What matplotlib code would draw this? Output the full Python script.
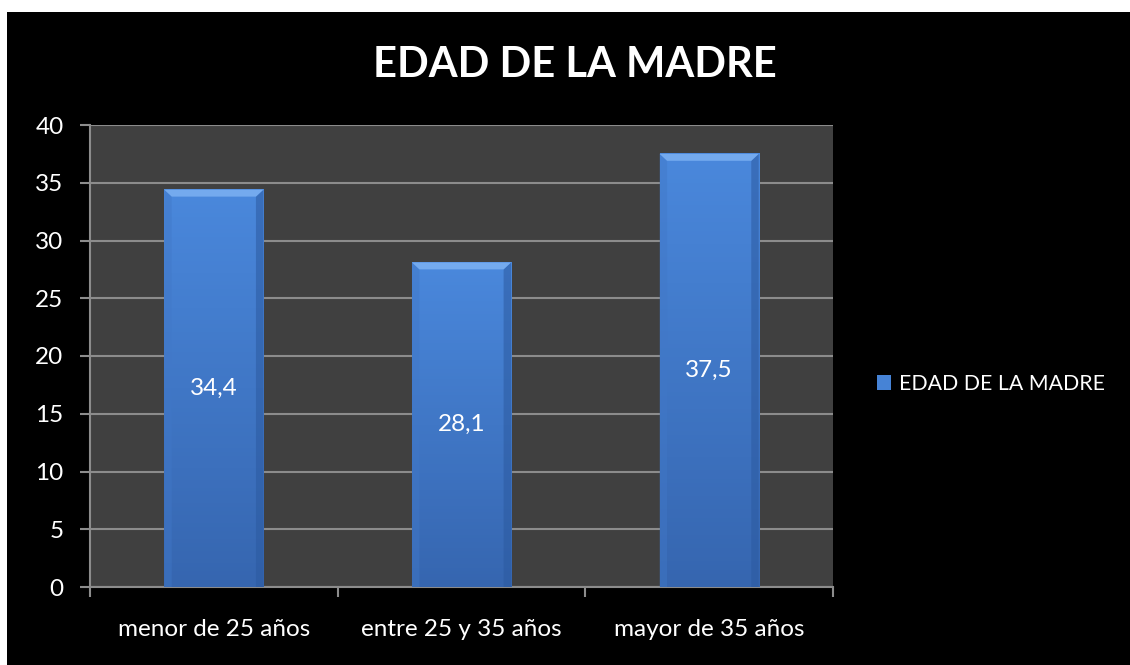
import matplotlib
matplotlib.use("Agg")
import matplotlib.pyplot as plt
from matplotlib.patches import Polygon, Rectangle
import numpy as np

categories = ["menor de 25 años", "entre 25 y 35 años", "mayor de 35 años"]
values = [34.4, 28.1, 37.5]
value_labels = ["34,4", "28,1", "37,5"]
series_name = "EDAD DE LA MADRE"
title = "EDAD DE LA MADRE"
yticks = [0, 5, 10, 15, 20, 25, 30, 35, 40]

plt.rcParams['font.family'] = ['Lato', 'DejaVu Sans']

W, H = 1130, 665
fig = plt.figure(figsize=(W/100, H/100), dpi=100, facecolor='white')
# black chart area (white margin top/left)
fig.patches.append(Rectangle((7/W, 0), 1 - 7/W, 1 - 12/H, transform=fig.transFigure,
                             facecolor='black', edgecolor='none', zorder=-10))

ax = fig.add_axes([90/W, 1 - 587/H, (833-90)/W, (587-125)/H])
ax.set_facecolor('#404040')
x = np.arange(len(categories))
bw = 0.4
face = '#4683d6'
bars = ax.bar(x, values, width=bw, color=face, edgecolor='none', zorder=3, label=series_name)

bx = 0.03
by = 0.6
cmap = matplotlib.colors.LinearSegmentedColormap.from_list('g', ['#3666b0', '#4a88dc'])
for b in bars:
    x0 = b.get_x(); x1 = x0 + b.get_width(); h = b.get_height()
    grad = np.linspace(0, 1, 100).reshape(-1, 1)
    ax.imshow(grad, extent=[x0, x1, 0, h], origin='lower', cmap=cmap,
              aspect='auto', zorder=3.1)
    # top bevel
    ax.add_patch(Polygon([(x0, h), (x1, h), (x1 - bx, h - by), (x0 + bx, h - by)],
                         closed=True, facecolor='#74aaee', edgecolor='none', zorder=3.3))
    # left bevel
    ax.add_patch(Polygon([(x0, h), (x0 + bx, h - by), (x0 + bx, 0), (x0, 0)],
                         closed=True, facecolor='#4178c8', edgecolor='none', zorder=3.2, alpha=0.45))
    # right bevel
    ax.add_patch(Polygon([(x1, h), (x1 - bx, h - by), (x1 - bx, 0), (x1, 0)],
                         closed=True, facecolor='#2c5aa0', edgecolor='none', zorder=3.2, alpha=0.55))

for xi, v, lab in zip(x, values, value_labels):
    ax.text(xi, v/2, lab, ha='center', va='center', color='white', fontsize=17.5, zorder=6)

ax.set_xlim(-0.5, len(categories) - 0.5)
ax.set_ylim(0, 40)
ax.set_yticks(yticks)
ax.set_yticklabels([str(t) for t in yticks], color='white', fontsize=17.5)
ax.set_xticks(x)
ax.set_xticklabels(categories, color='white', fontsize=17.5)
ax.tick_params(axis='x', length=0, pad=23)
ax.set_xticks(np.arange(-0.5, len(categories)), minor=True)
ax.tick_params(axis='x', which='minor', length=7, color='#8c8c8c', width=1.5)
ax.tick_params(axis='y', length=7, color='#8c8c8c', width=1.5, pad=12)
ax.grid(axis='y', color='#8c8c8c', linewidth=1.5, zorder=1)
ax.set_axisbelow(True)
for s in ['top', 'right']:
    ax.spines[s].set_visible(False)
for s in ['left', 'bottom']:
    ax.spines[s].set_color('#8c8c8c')
    ax.spines[s].set_linewidth(1.5)

fig.text(575/W, 1 - 65/H, title, ha='center', va='center', color='white',
         fontsize=30, fontweight='bold')

leg = fig.legend(handles=[bars], labels=[series_name], loc='center left',
                 bbox_to_anchor=(858/W, 1 - 384/H), frameon=False,
                 labelcolor='white', fontsize=15.3, handlelength=0.65, handleheight=0.65,
                 handletextpad=0.4)

fig.savefig('out.png', dpi=100, facecolor='white')
